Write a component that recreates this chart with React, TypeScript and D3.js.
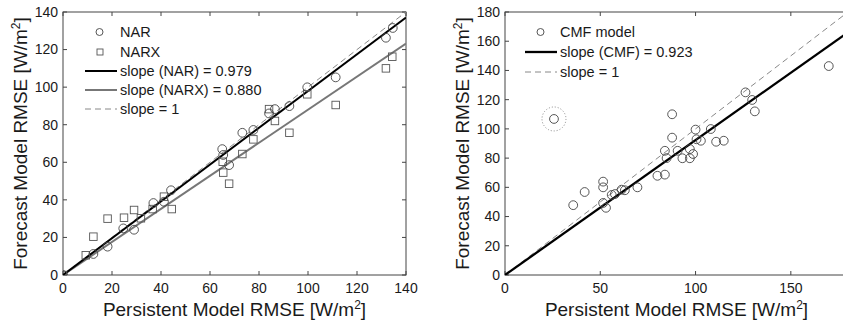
import * as d3 from 'd3';

// NAR / NARX panel (persistent vs forecast RMSE, W/m2)
const narPersistent = [0, 12.4, 18.2, 24.6, 29, 36.9, 41.2, 44.1, 65, 65.4, 67.8, 73.2, 77.7, 84.1, 86.5, 92.4, 99.7, 111.3, 131.8, 134.6];
const narForecast = [0, 11.2, 15.1, 24.8, 24.1, 38.3, 39, 45.1, 67, 63.9, 58.5, 75.7, 77.2, 86, 88.3, 89.9, 99.9, 105.2, 126.3, 131.5];
const narxPersistent = [0, 9.3, 12.4, 18.2, 24.9, 29, 31.8, 36.6, 41.2, 44.4, 65.2, 65.4, 67.8, 73.2, 77.7, 84.1, 86.5, 92.4, 99.7, 111.3, 131.8, 134.4];
const narxForecast = [0, 10.5, 20.4, 30, 30.5, 34.6, 30.2, 35.1, 41.7, 35.1, 60.3, 54.5, 48.6, 64.4, 72.2, 88.3, 82, 75.7, 96.2, 90.5, 110, 116.2];

// CMF panel
const cmfPersistent = [25.7, 35.8, 41.8, 51.5, 51.5, 51.5, 53, 56, 57.7, 61.2, 62.9, 69.5, 80, 83.9, 83.9, 84.8, 87.7, 87.7, 90.6, 93.1, 97, 97, 98.7, 100, 100.5, 102.8, 108, 110.8, 114.8, 126.2, 129.7, 131.1, 169.9];
const cmfForecast = [106.8, 47.8, 56.8, 63.9, 60, 49.3, 46, 54.8, 55.4, 58.4, 58, 60, 67.9, 68.7, 85, 80, 110, 94, 85, 79.9, 79.9, 86.2, 82.8, 99.5, 92.9, 91.9, 99.9, 91.2, 91.9, 125, 119.8, 112, 143];

const slopeNar = 0.979;
const slopeNarx = 0.88;
const slopeCmf = 0.923;

const leftTicks = [0, 20, 40, 60, 80, 100, 120, 140];
const rightXTicks = [0, 50, 100, 150];
const rightYTicks = [0, 20, 40, 60, 80, 100, 120, 140, 160, 180];

const FONT = '"Liberation Sans", Arial, Helvetica, sans-serif';
const TEXT = '#1a1a1a';
const AXIS = '#444';

type Scale = d3.ScaleLinear<number, number>;

function Frame({ x, y, xTicks, yTicks, id }: { x: Scale; y: Scale; xTicks: number[]; yTicks: number[]; id: string }) {
  const [x0, x1] = x.range();
  const [y0, y1] = y.range();
  return (
    <g>
      <defs>
        <clipPath id={id}>
          <rect x={x0} y={y1} width={x1 - x0} height={y0 - y1} />
        </clipPath>
      </defs>
      <rect x={x0} y={y1} width={x1 - x0} height={y0 - y1} fill="none" stroke={AXIS} strokeWidth={1} />
      {xTicks.map((t) => (
        <g key={'x' + t}>
          <line x1={x(t)} x2={x(t)} y1={y0} y2={y0 - 4} stroke={AXIS} />
          <line x1={x(t)} x2={x(t)} y1={y1} y2={y1 + 4} stroke={AXIS} />
          <text x={x(t)} y={y0 + 18} textAnchor="middle" fontSize={14} fill={TEXT}>{t}</text>
        </g>
      ))}
      {yTicks.map((t) => (
        <g key={'y' + t}>
          <line x1={x0} x2={x0 + 4} y1={y(t)} y2={y(t)} stroke={AXIS} />
          <line x1={x1} x2={x1 - 4} y1={y(t)} y2={y(t)} stroke={AXIS} />
          <text x={x0 - 5} y={y(t)} dy="0.35em" textAnchor="end" fontSize={14} fill={TEXT}>{t}</text>
        </g>
      ))}
    </g>
  );
}

function Titles({ x, y, labelX }: { x: Scale; y: Scale; labelX: number }) {
  const [x0, x1] = x.range();
  const [y0, y1] = y.range();
  return (
    <g fontSize={19} fill={TEXT}>
      <text x={(x0 + x1) / 2} y={316} textAnchor="middle">
        Persistent Model RMSE [W/m<tspan fontSize={12} dy={-7}>2</tspan><tspan dy={7}>]</tspan>
      </text>
      <text transform={`translate(${labelX},${(y0 + y1) / 2}) rotate(-90)`} textAnchor="middle">
        Forecast Model RMSE [W/m<tspan fontSize={12} dy={-7}>2</tspan><tspan dy={7}>]</tspan>
      </text>
    </g>
  );
}

function slopeLine(x: Scale, y: Scale, slope: number, xmax: number) {
  const line = d3.line<number>().x((d) => x(d)).y((d) => y(slope * d));
  return line([0, xmax]) ?? '';
}

export default function App() {
  const lx = d3.scaleLinear().domain([0, 140]).range([63, 406]);
  const ly = d3.scaleLinear().domain([0, 140]).range([275, 12]);
  const rx = d3.scaleLinear().domain([0, 180]).range([505, 848]);
  const ry = d3.scaleLinear().domain([0, 180]).range([275, 12]);

  const sq = 7.5;

  return (
    <svg width={843} height={321} style={{ position: 'absolute', left: 0, top: 0, background: '#fff' }} fontFamily={FONT}>
      <rect width={843} height={321} fill="#fff" />

      {/* left panel */}
      <Frame x={lx} y={ly} xTicks={leftTicks} yTicks={leftTicks} id="clipL" />
      <g clipPath="url(#clipL)">
        <path d={slopeLine(lx, ly, 1, 140)} stroke="#888" strokeWidth={1} strokeDasharray="6,4" fill="none" />
        <path d={slopeLine(lx, ly, slopeNarx, 140)} stroke="#777" strokeWidth={2} fill="none" />
        <path d={slopeLine(lx, ly, slopeNar, 140)} stroke="#000" strokeWidth={2} fill="none" />
        {narxPersistent.map((v, i) => (
          <rect key={'s' + i} x={lx(v) - sq / 2} y={ly(narxForecast[i]) - sq / 2} width={sq} height={sq} fill="none" stroke="#555" strokeWidth={0.9} />
        ))}
        {narPersistent.map((v, i) => (
          <circle key={'c' + i} cx={lx(v)} cy={ly(narForecast[i])} r={4.4} fill="none" stroke="#444" strokeWidth={0.9} />
        ))}
      </g>
      <g fontSize={14.5} fill={TEXT}>
        <circle cx={99.5} cy={32} r={3.5} fill="none" stroke="#444" strokeWidth={0.9} />
        <text x={120} y={32} dy="0.35em">NAR</text>
        <rect x={100 - 3} y={52 - 3} width={6} height={6} fill="none" stroke="#555" strokeWidth={0.9} />
        <text x={120} y={52} dy="0.35em">NARX</text>
        <line x1={85} x2={117} y1={71} y2={71} stroke="#000" strokeWidth={2} />
        <text x={120} y={71} dy="0.35em">slope (NAR) = 0.979</text>
        <line x1={85} x2={117} y1={90} y2={90} stroke="#777" strokeWidth={2} />
        <text x={120} y={90} dy="0.35em">slope (NARX) = 0.880</text>
        <line x1={85} x2={117} y1={109} y2={109} stroke="#888" strokeWidth={1} strokeDasharray="6,4" />
        <text x={120} y={109} dy="0.35em">slope = 1</text>
      </g>
      <Titles x={lx} y={ly} labelX={27} />

      {/* right panel */}
      <Frame x={rx} y={ry} xTicks={rightXTicks} yTicks={rightYTicks} id="clipR" />
      <g clipPath="url(#clipR)">
        <path d={slopeLine(rx, ry, 1, 180)} stroke="#888" strokeWidth={1} strokeDasharray="6,4" fill="none" />
        <path d={slopeLine(rx, ry, slopeCmf, 180)} stroke="#000" strokeWidth={2.3} fill="none" />
        {cmfPersistent.map((v, i) => (
          <circle key={'m' + i} cx={rx(v)} cy={ry(cmfForecast[i])} r={4.4} fill="none" stroke="#444" strokeWidth={0.9} />
        ))}
        <circle cx={rx(cmfPersistent[0])} cy={ry(cmfForecast[0])} r={12} fill="none" stroke="#888" strokeWidth={1} strokeDasharray="1,2" />
      </g>
      <g fontSize={14.5} fill={TEXT}>
        <circle cx={540.5} cy={32} r={3.5} fill="none" stroke="#444" strokeWidth={0.9} />
        <text x={560} y={32} dy="0.35em">CMF model</text>
        <line x1={525} x2={557} y1={52} y2={52} stroke="#000" strokeWidth={2.3} />
        <text x={560} y={52} dy="0.35em">slope (CMF) = 0.923</text>
        <line x1={525} x2={557} y1={72} y2={72} stroke="#888" strokeWidth={1} strokeDasharray="6,4" />
        <text x={560} y={72} dy="0.35em">slope = 1</text>
      </g>
      <Titles x={rx} y={ry} labelX={469} />
    </svg>
  );
}
